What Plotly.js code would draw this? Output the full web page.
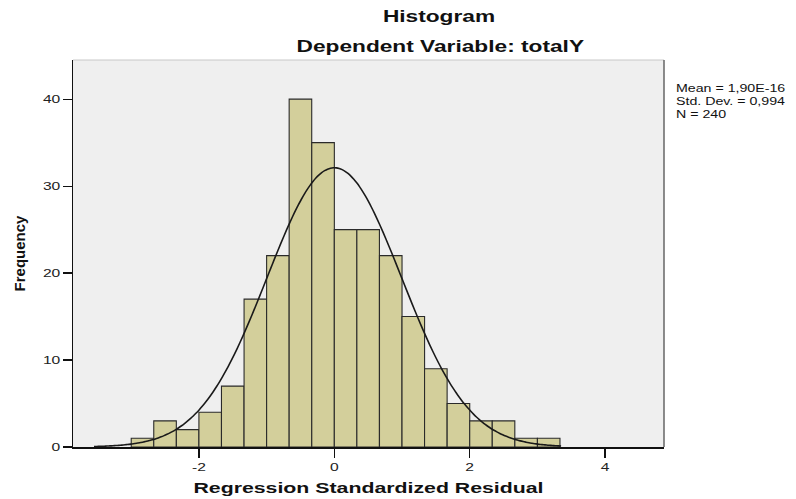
<!DOCTYPE html>
<html>
<head>
<meta charset="utf-8">
<script src="https://cdn.plot.ly/plotly-3.0.1.min.js"></script>
<style>
html,body{margin:0;padding:0;background:#ffffff;}
#chart{width:796px;height:499px;}
</style>
</head>
<body>
<div id="chart"></div>
<script>
// ---- data ----
const binLeft = [-3.000,-2.667,-2.333,-2.000,-1.667,-1.333,-1.000,-0.667,-0.333,
                 0.000,0.333,0.667,1.000,1.333,1.667,2.000,2.333,2.667,3.000];
const binWidth = 1/3;
const counts = [1,3,2,4,7,17,22,40,35,25,25,22,15,9,5,3,3,1,1];

const statMean = 1.90e-16;
const statSd = 0.994;
const statN = 240;
const statLabels = ['Mean = 1,90E-16', 'Std. Dev. = 0,994', 'N = 240'];

const curveFrom = -3.55;
const curveTo = 3.35;

const xTickVals = [-2, 0, 2, 4];
const yTickVals = [0, 10, 20, 30, 40];

const titleText = 'Histogram';
const subtitleText = 'Dependent Variable: totalY';
const xTitleText = 'Regression Standardized Residual';
const yTitleText = 'Frequency';

// ---- fitted normal curve (from the displayed mean, sd and N) ----
const curveX = [], curveY = [];
const nPts = 160;
for (let i = 0; i <= nPts; i++) {
  const x = curveFrom + (curveTo - curveFrom) * i / nPts;
  const z = (x - statMean) / statSd;
  curveX.push(x);
  curveY.push(statN * binWidth * Math.exp(-0.5 * z * z) / (statSd * Math.sqrt(2 * Math.PI)));
}

const FONT = 'Liberation Sans, Arial, sans-serif';

const data = [
  {
    type: 'bar',
    x: binLeft,
    y: counts,
    width: binWidth,
    offset: 0,
    marker: {color: '#d3cf9b', line: {color: '#2a2a2a', width: 1.1}},
    hoverinfo: 'skip'
  },
  {
    type: 'scatter',
    mode: 'lines',
    x: curveX,
    y: curveY,
    line: {color: '#1a1a1a', width: 1.6, shape: 'spline'},
    hoverinfo: 'skip'
  }
];

const layout = {
  width: 796,
  height: 499,
  margin: {l: 73, r: 132, t: 60, b: 52},
  paper_bgcolor: '#ffffff',
  plot_bgcolor: '#efefef',
  showlegend: false,
  hovermode: false,
  font: {family: FONT, color: '#111'},
  title: {
    text: titleText,
    font: {family: FONT, size: 16, color: '#111', weight: 'bold'},
    xref: 'container', yref: 'container',
    x: 439 / 796, xanchor: 'center',
    y: 1 - 16 / 499, yanchor: 'middle'
  },
  xaxis: {
    range: [-3.86, 4.87],
    tickvals: xTickVals,
    ticktext: xTickVals.map(String),
    ticks: 'outside', ticklen: 9, tickwidth: 1.2, tickcolor: '#111',
    showline: true, linecolor: '#111', linewidth: 1.5,
    showgrid: false, zeroline: false,
    tickfont: {family: FONT, size: 11, color: '#222'},
    title: {text: xTitleText, font: {family: FONT, size: 15, color: '#111', weight: 'bold'}, standoff: 11}
  },
  yaxis: {
    range: [0, 44.5],
    tickvals: yTickVals,
    ticktext: yTickVals.map(String),
    ticks: 'outside', ticklen: 9, tickwidth: 1.2, tickcolor: '#111',
    showline: true, linecolor: '#111', linewidth: 1.5,
    showgrid: false, zeroline: false,
    tickfont: {family: FONT, size: 11, color: '#222'},
    title: {text: yTitleText, font: {family: FONT, size: 15, color: '#111', weight: 'bold'}, standoff: 19}
  },
  shapes: [
    {type: 'line', xref: 'paper', yref: 'paper', x0: 0, x1: 1, y0: 1, y1: 1, line: {color: '#c8c8c8', width: 1}},
    {type: 'line', xref: 'paper', yref: 'paper', x0: 1, x1: 1, y0: 0, y1: 1, line: {color: '#666666', width: 1.5}}
  ],
  annotations: [
    {
      text: subtitleText,
      xref: 'paper', yref: 'paper',
      x: 0.621, y: 1.036,
      xanchor: 'center', yanchor: 'middle',
      showarrow: false,
      font: {family: FONT, size: 16, color: '#111', weight: 'bold'}
    },
    {
      text: statLabels.join('<br>'),
      xref: 'paper', yref: 'paper',
      x: 1.0175, y: 0.893,
      xanchor: 'left', yanchor: 'middle', align: 'left',
      showarrow: false,
      font: {family: FONT, size: 10, color: '#111'}
    }
  ]
};

function stretchText(el, s) {
  const r = el.getBoundingClientRect();
  if (!r.width) return;
  const anchor = el.getAttribute('text-anchor') || getComputedStyle(el).textAnchor;
  const px = anchor === 'end' ? r.right : (anchor === 'start' ? r.left : (r.left + r.right) / 2);
  const pm = el.parentNode.getScreenCTM();
  const lx = px - pm.e;
  const t = el.getAttribute('transform') || '';
  el.setAttribute('transform', 'translate(' + lx + ',0) scale(' + s + ',1) translate(' + (-lx) + ',0) ' + t);
}

Plotly.newPlot('chart', data, layout, {staticPlot: true, displayModeBar: false}).then(function (gd) {
  const S = 1.42;
  gd.querySelectorAll('text.gtitle, text.annotation-text, text.xtitle, .xtick text, .ytick text')
    .forEach(function (el) { stretchText(el, S); });
});
</script>
</body>
</html>
